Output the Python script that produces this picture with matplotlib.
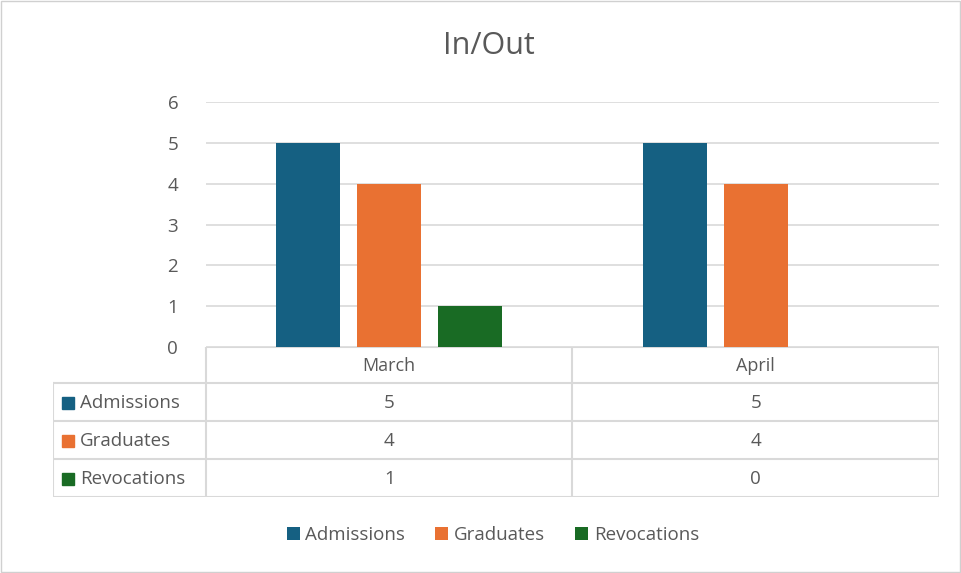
import matplotlib.pyplot as plt
from matplotlib.patches import Rectangle
import numpy as np

plt.rcParams['font.family'] = ['Open Sans', 'DejaVu Sans']

months = ["March", "April"]
series = ["Admissions", "Graduates", "Revocations"]
admissions = [5, 5]
graduates = [4, 4]
revocations = [1, 0]
colors = ["#156082", "#E97132", "#196B24"]

W, H = 962, 573
fig = plt.figure(figsize=(W / 100, H / 100), dpi=100)
txt = "#595959"
grid = "#d9d9d9"
fs = 13.5

# outer border
fig.patches.append(Rectangle((0.001, 0.002), 0.997, 0.996, transform=fig.transFigure,
                             fill=False, edgecolor="#d0d0d0", lw=1))

def px(l, t, r, b):
    return [l / W, 1 - b / H, (r - l) / W, (b - t) / H]

ax = fig.add_axes(px(206, 102, 939, 347))
x = np.arange(len(months))
width = 0.175
step = 0.221
values = [admissions, graduates, revocations]
for i, (name, vals, c) in enumerate(zip(series, values, colors)):
    ax.bar(x + (i - 1) * step, vals, width, color=c, label=name, zorder=3)

ax.set_xlim(-0.5, 1.5)
ax.set_ylim(0, 6)
ax.set_yticks(range(7))
ax.yaxis.grid(True, color=grid, lw=1.2, zorder=0)
ax.set_xticks([])
for s in ax.spines.values():
    s.set_visible(False)
ax.tick_params(axis='y', length=0, pad=20, labelsize=fs, labelcolor=txt)
fig.text(489 / W, 1 - 46 / H, "In/Out", ha='center', va='center', fontsize=22, color=txt)

# data table under the axis
tb = fig.add_axes(px(53, 347, 939, 497))
tb.set_xlim(53, 939)
tb.set_ylim(497, 347)
tb.axis('off')
lw = 1.5
col_edges = [206, 572.5, 939]
row_edges = [347, 383, 421, 459, 497]
lk = dict(color=grid, lw=lw, solid_capstyle='projecting')
tb.plot([206, 939], [347, 347], **lk)
for yy in row_edges[1:]:
    tb.plot([53, 939], [yy, yy], **lk)
tb.plot([53, 53], [383, 497], **lk)
for xx in col_edges:
    tb.plot([xx, xx], [347, 497], **lk)

for j, m in enumerate(months):
    cx = (col_edges[j] + col_edges[j + 1]) / 2
    tb.text(cx, (row_edges[0] + row_edges[1]) / 2 + 1, m, ha='center', va='center',
            fontsize=fs - 0.5, color=txt)
for i, (name, vals, c) in enumerate(zip(series, values, colors)):
    cy = (row_edges[i + 1] + row_edges[i + 2]) / 2 + 1.5
    tb.add_patch(Rectangle((62, cy - 6.5), 12, 12, color=c))
    tb.text(80, cy, name, ha='left', va='center', fontsize=fs, color=txt)
    for j, v in enumerate(vals):
        cx = (col_edges[j] + col_edges[j + 1]) / 2
        tb.text(cx, cy, str(v), ha='center', va='center', fontsize=fs, color=txt)

handles, labels = ax.get_legend_handles_labels()
fig.legend(handles, labels, loc='center', bbox_to_anchor=(493 / W, 1 - 535 / H),
           ncol=3, frameon=False, fontsize=fs, labelcolor=txt,
           handlelength=0.7, handleheight=0.7, handletextpad=0.3, columnspacing=1.6)

fig.savefig("out.png", dpi=100)
